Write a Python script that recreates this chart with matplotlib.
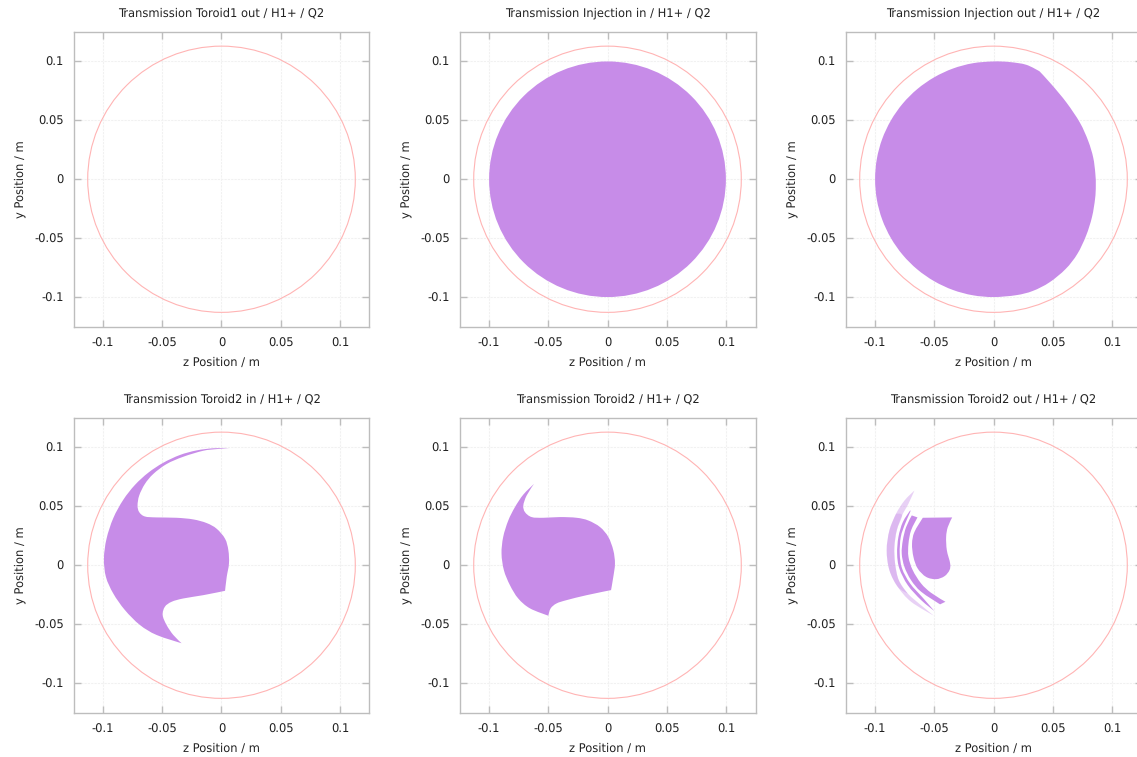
import matplotlib
matplotlib.use("Agg")
import matplotlib.pyplot as plt
import numpy as np
from matplotlib.patches import Circle, PathPatch
from matplotlib.path import Path

plt.rcParams['font.family'] = 'DejaVu Sans'
plt.rcParams['text.hinting'] = 'no_hinting'

titles = ["Transmission Toroid1 out / H1+ / Q2", "Transmission Injection in / H1+ / Q2",
          "Transmission Injection out / H1+ / Q2", "Transmission Toroid2 in / H1+ / Q2",
          "Transmission Toroid2 / H1+ / Q2", "Transmission Toroid2 out / H1+ / Q2"]

tick_values = [-0.1, -0.05, 0, 0.05, 0.1]
tick_labels = ["-0.1", "-0.05", "0", "0.05", "0.1"]

aperture_radius = 0.113
beam_radius = 0.1

# beam outlines, (z, y) in metres
injection_out_z = [0, .0135, .0276, .0389, .0490, .0617, .0730, .0800, .0842, .0860, .0864, .0858, .0832, .0782, .0708,
                   .0610, .0473, .0332, .0192, 0, -.0174, -.0342, -.05, -.0643, -.0766, -.0866, -.094, -.0985,
                   -.1, -.0985, -.094, -.0866, -.0766, -.0643, -.05, -.0342, -.0174]
injection_out_y = [.1, .0995, .0972, .0916, .0805, .0650, .0480, .0325, .0185, .0050, -.0056, -.0165, -.0320, -.0479, -.0634,
                   -.0761, -.0875, -.0948, -.0984, -.1, -.0985, -.094, -.0866, -.0766, -.0643, -.05, -.0342, -.0174,
                   0, .0174, .0342, .05, .0643, .0766, .0866, .094, .0985]

toroid2_in_z = [.0066, -.0069, -.021, -.0351, -.0492, -.0618, -.0731, -.0830, -.0914, -.0971, -.0993, -.0976,
                -.0914, -.0816, -.0689, -.0548, -.0337, -.0407, -.0464, -.0497, -.0478, -.0421, -.0323, -.0154,
                .0030, .0044, .0063, .0058, .0030, -.0041, -.0125, -.0238, -.0379, -.0548, -.0647, -.0695,
                -.0709, -.0695, -.0647, -.0576, -.0464, -.0323, -.0154, -.0041]
toroid2_in_y = [.0995, .0993, .0975, .0936, .0870, .0786, .0682, .0555, .0400, .0225, .0056, -.0099,
                -.0240, -.0380, -.0507, -.0592, -.0662, -.0592, -.0507, -.0423, -.0352, -.0310, -.0282, -.0254,
                -.0217, -.0099, .0014, .0127, .0225, .0310, .0358, .0389, .0403, .0406, .0414, .0451,
                .0507, .0592, .0690, .0775, .0859, .0921, .0972, .0986]

toroid2_z = [-.0621, -.0711, -.0782, -.0838, -.0881, -.0895, -.0875, -.0824, -.0754, -.0655, -.0500, -.0480,
             -.0430, -.0345, -.0176, .0030, .0049, .0063, .0049, .0007, -.0063, -.0162, -.0261, -.0401,
             -.0542, -.0641, -.0697, -.0711, -.0683]
toroid2_y = [.0690, .0600, .0493, .0380, .0240, .0099, -.0042, -.0169, -.0282, -.0366, -.0428, -.0366,
             -.0324, -.0296, -.0254, -.0211, -.0099, .0014, .0127, .0240, .0324, .0380, .0403, .0409,
             .0403, .0409, .0451, .0507, .0592]

# Toroid2 out splits up into a core and some thin arcs
core_z = [-.0597, -.0349, -.0386, -.0400, -.0394, -.0366, -.0372, -.0414, -.0485, -.0569, -.0640, -.0676, -.0688, -.0668]
core_y = [.0403, .0406, .0324, .0240, .0127, .0014, -.0042, -.0093, -.0118, -.0099, -.0028, .0070, .0183, .0282]

arc_mid_z = [-.0690, -.0738, -.0766, -.0775, -.0752, -.0696, -.0611, -.0451, -.0406, -.0527, -.0611, -.0682,
             -.0718, -.0718, -.0696, -.0642]
arc_mid_y = [.0423, .0324, .0211, .0099, -.0014, -.0127, -.0225, -.0332, -.0310, -.0234, -.0155, -.0042,
             .0070, .0183, .0296, .0406]

arc_thin_z = [-.0704, -.0766, -.0803, -.0814, -.0795, -.0724, -.0611, -.0499, -.0597, -.0704, -.0772, -.0792,
              -.0783, -.0747, -.0704]
arc_thin_y = [.0465, .0366, .0240, .0099, -.0028, -.0169, -.0296, -.0389, -.0276, -.0155, -.0028, .0099,
              .0240, .0352, .0451]

arc_outer_z = [-.0668, -.0752, -.0823, -.0879, -.0902, -.0879, -.0809, -.0696, -.0504, -.0597, -.0724, -.0800,
               -.0831, -.0837, -.0817, -.0772, -.0719]
arc_outer_y = [.0634, .0549, .0437, .0296, .0127, -.0042, -.0183, -.0310, -.0428, -.0352, -.0240, -.0127,
               .0014, .0155, .0296, .0423, .0521]

# denser middle part of the outer arc
arc_dense_z = [-.0823, -.0879, -.0902, -.0879, -.0809, -.0724, -.0800, -.0831, -.0837, -.0817, -.0772]
arc_dense_y = [.0437, .0296, .0127, -.0042, -.0183, -.0240, -.0127, .0014, .0155, .0296, .0423]

beam_color = "#c78ce8"
aperture_color = "#ffb4b4"
border_color = "#bdbdbd"
grid_color = "#f1f1f1"
text_color = "#222222"
font_size = 8.3

# axes boxes in pixels, the right column runs past the edge of the picture
fig_w, fig_h = 1137, 757
lefts = [73.5, 459.5, 845.5]
tops = [32, 418]
box_w, box_h = 296, 294.5


def outline(ax, z, y, corners, alpha=1.0):
    # closed smooth curve through the read points, sharp at the corners
    pts = np.column_stack([z, y])
    n = len(pts)
    verts = [pts[0]]
    codes = [Path.MOVETO]
    for i in range(n):
        p0, p1, p2, p3 = pts[i - 1], pts[i], pts[(i + 1) % n], pts[(i + 2) % n]
        t1 = np.zeros(2) if i in corners else (p2 - p0) / 6
        t2 = np.zeros(2) if (i + 1) % n in corners else (p3 - p1) / 6
        verts += [p1 + t1, p2 - t2, p2]
        codes += [Path.CURVE4] * 3
    ax.add_patch(PathPatch(Path(verts, codes), facecolor=beam_color, edgecolor="none", alpha=alpha, zorder=2))


fig = plt.figure(figsize=(fig_w / 100, fig_h / 100), dpi=100)

axes = []
for top in tops:
    for left in lefts:
        axes.append(fig.add_axes([left / fig_w, 1 - (top + box_h) / fig_h, box_w / fig_w, box_h / fig_h]))

for ax, title in zip(axes, titles):
    ax.set_xlim(-0.125, 0.125)
    ax.set_ylim(-0.125, 0.125)
    ax.set_xticks(tick_values, tick_labels)
    ax.set_yticks(tick_values, tick_labels)
    ax.tick_params(direction="in", length=5, width=1, color=border_color, labelsize=font_size,
                   labelcolor=text_color, top=True, right=True, pad=7)
    ax.tick_params(axis="x", pad=8)
    ax.grid(True, color=grid_color, linewidth=0.8, linestyle=(0, (2, 1)))
    ax.set_axisbelow(True)
    for spine in ax.spines.values():
        spine.set_color(border_color)
        spine.set_linewidth(1)
    ax.set_title(title, fontsize=font_size, pad=11.5, color=text_color)
    ax.set_xlabel("z Position / m", fontsize=font_size, labelpad=5.5, color=text_color)
    ax.set_ylabel("y Position / m", fontsize=font_size, labelpad=5.5, color=text_color)
    ax.add_patch(Circle((0, 0), aperture_radius, fill=False, edgecolor=aperture_color, linewidth=0.8, zorder=3))

axes[1].add_patch(Circle((0, 0), beam_radius, facecolor=beam_color, edgecolor="none", zorder=2))
outline(axes[2], injection_out_z, injection_out_y, [3])
outline(axes[3], toroid2_in_z, toroid2_in_y, [0, 16, 24])
outline(axes[4], toroid2_z, toroid2_y, [0, 10, 15])
outline(axes[5], core_z, core_y, [0, 1])
outline(axes[5], arc_mid_z, arc_mid_y, [0, 7, 8, 15])
outline(axes[5], arc_thin_z, arc_thin_y, [0, 7])
outline(axes[5], arc_outer_z, arc_outer_y, [0, 8], alpha=0.4)
outline(axes[5], arc_dense_z, arc_dense_y, [0, 5], alpha=0.35)

fig.savefig("out.png", dpi=100)
